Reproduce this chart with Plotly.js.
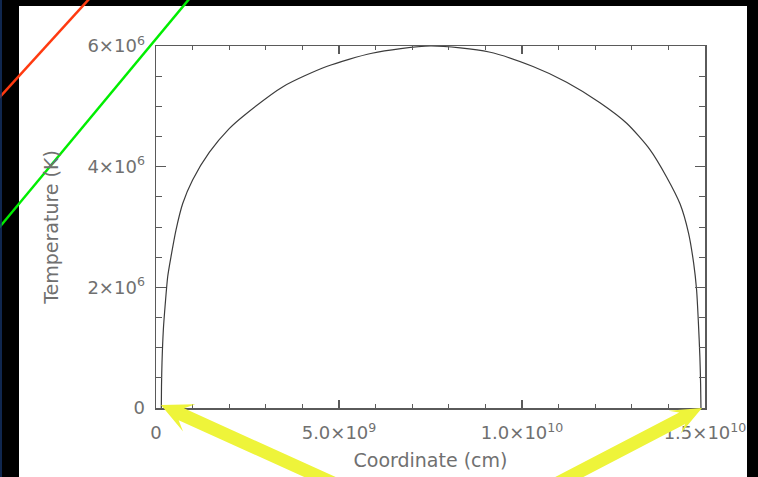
<!DOCTYPE html>
<html>
<head>
<meta charset="utf-8">
<script src="https://cdn.plot.ly/plotly-3.0.1.min.js"></script>
<style>html,body{margin:0;padding:0;background:#000;}#chart{width:758px;height:477px;}</style>
</head>
<body>
<div id="chart"></div>
<script>
// ---- data ----
const coordinate = [1.45e8, 1.50e8, 1.64e8, 2.00e8, 2.55e8, 3.20e8, 4.10e8, 5.46e8, 7.30e8, 1.00e9, 1.46e9, 2.00e9, 2.39e9, 3.48e9, 4.66e9, 5.90e9, 7.50e9, 9.10e9, 1.03e10, 1.122e10, 1.213e10, 1.286e10, 1.350e10, 1.395e10, 1.432e10, 1.455e10, 1.469e10, 1.477e10, 1.482e10, 1.486e10, 1.488e10, 1.489e10];
const temperature = [0, 0.35e6, 0.75e6, 1.29e6, 1.74e6, 2.18e6, 2.51e6, 2.95e6, 3.39e6, 3.78e6, 4.24e6, 4.63e6, 4.84e6, 5.33e6, 5.66e6, 5.88e6, 6.0e6, 5.90e6, 5.66e6, 5.40e6, 5.06e6, 4.72e6, 4.28e6, 3.83e6, 3.38e6, 2.90e6, 2.40e6, 1.96e6, 1.41e6, 0.85e6, 0.40e6, 0];
const xTickVals = [0, 5e9, 1e10, 1.5e10];
const xTickText = ['0', '5.0×10<sup>9</sup>', '1.0×10<sup>10</sup>', '1.5×10<sup>10</sup>'];
const yTickVals = [0, 2e6, 4e6, 6e6];
const yTickText = ['0', '2×10<sup>6</sup>', '4×10<sup>6</sup>', '6×10<sup>6</sup>'];
const xTitle = 'Coordinate (cm)';
const yTitle = 'Temperature (K)';

// ---- layout geometry (pixels) ----
const W = 758, H = 477;
const M = {l: 156, r: 53, t: 46, b: 69};
const pw = W - M.l - M.r, ph = H - M.t - M.b;
function px(x) { return (x - M.l) / pw; }
function py(y) { return (H - M.b - y) / ph; }
function pt(p) { return px(p[0]).toFixed(5) + ',' + py(p[1]).toFixed(5); }

function arrowPath(tip, base, headLen, headHalf, shaftHalf, sweep) {
  const dx = base[0] - tip[0], dy = base[1] - tip[1];
  const L = Math.hypot(dx, dy);
  const ux = dx / L, uy = dy / L;
  const nx = -uy, ny = ux;
  const neck = [tip[0] + ux * headLen * sweep, tip[1] + uy * headLen * sweep];
  const hb = [tip[0] + ux * headLen, tip[1] + uy * headLen];
  const b1 = [hb[0] + nx * headHalf, hb[1] + ny * headHalf];
  const b2 = [hb[0] - nx * headHalf, hb[1] - ny * headHalf];
  const n1 = [neck[0] + nx * shaftHalf, neck[1] + ny * shaftHalf];
  const n2 = [neck[0] - nx * shaftHalf, neck[1] - ny * shaftHalf];
  const e1 = [base[0] + nx * shaftHalf, base[1] + ny * shaftHalf];
  const e2 = [base[0] - nx * shaftHalf, base[1] - ny * shaftHalf];
  return 'M' + pt(tip) + 'L' + pt(b1) + 'L' + pt(n1) + 'L' + pt(e1) + 'L' + pt(e2) + 'L' + pt(n2) + 'L' + pt(b2) + 'Z';
}

const shapes = [
  // white slide panel
  {type: 'rect', xref: 'paper', yref: 'paper', x0: px(19), x1: px(747), y0: py(6), y1: py(490),
   fillcolor: '#ffffff', line: {width: 0}, layer: 'below'},
  // red and green diagonal lines
  {type: 'line', xref: 'paper', yref: 'paper', x0: px(-2), y0: py(99), x1: px(90), y1: py(-2),
   line: {color: '#ff3a10', width: 2.5}},
  {type: 'line', xref: 'paper', yref: 'paper', x0: px(-2), y0: py(229), x1: px(190), y1: py(-2),
   line: {color: '#00ee00', width: 2.5}},
  // right black border (covers overflowing label)
  {type: 'rect', xref: 'paper', yref: 'paper', x0: px(747), x1: px(760), y0: py(-2), y1: py(480),
   fillcolor: '#000000', line: {width: 0}},
  // thin blue edge on the left
  {type: 'line', xref: 'paper', yref: 'paper', x0: px(1), y0: py(0), x1: px(1), y1: py(477),
   line: {color: '#16346a', width: 1.5}},
  // yellow arrows
  {type: 'path', xref: 'paper', yref: 'paper', path: arrowPath([161, 405], [342, 487], 31, 15, 6.5, 0.72),
   fillcolor: '#eef43a', line: {width: 0}},
  {type: 'path', xref: 'paper', yref: 'paper', path: arrowPath([702, 408], [552, 486], 31, 13, 6.5, 0.72),
   fillcolor: '#eef43a', line: {width: 0}}
];

const txtColor = '#707070';
const lineColor = '#5a5a5a';
const fontFam = 'DejaVu Sans, sans-serif';

const trace = {
  x: coordinate, y: temperature, type: 'scatter', mode: 'lines',
  line: {color: '#3c3c3c', width: 1.2, shape: 'spline', smoothing: 0.7},
  hoverinfo: 'skip', showlegend: false
};

const layout = {
  width: W, height: H,
  margin: M,
  paper_bgcolor: '#000000',
  plot_bgcolor: 'rgba(0,0,0,0)',
  showlegend: false,
  xaxis: {
    range: [0, 1.5e10], showgrid: false, zeroline: false,
    showline: true, linecolor: lineColor, linewidth: 1.5, mirror: 'allticks',
    ticks: 'inside', ticklen: 8, tickwidth: 1.2, tickcolor: lineColor,
    tickmode: 'array', tickvals: xTickVals, ticktext: xTickText,
    minor: {dtick: 1e9, ticklen: 4, tickwidth: 1, tickcolor: lineColor, ticks: 'inside', showgrid: false},
    tickfont: {family: fontFam, size: 18, color: txtColor},
    ticklabelstandoff: 8,
    title: {text: xTitle, font: {family: fontFam, size: 19, color: txtColor}, standoff: 11},
    automargin: false, fixedrange: true
  },
  yaxis: {
    range: [0, 6e6], showgrid: false, zeroline: false,
    showline: true, linecolor: lineColor, linewidth: 1.5, mirror: 'allticks',
    ticks: 'inside', ticklen: 10, tickwidth: 1.2, tickcolor: lineColor,
    tickmode: 'array', tickvals: yTickVals, ticktext: yTickText,
    minor: {dtick: 5e5, ticklen: 6, tickwidth: 1, tickcolor: lineColor, ticks: 'inside', showgrid: false},
    tickfont: {family: fontFam, size: 18, color: txtColor},
    ticklabelstandoff: 6,
    title: {text: yTitle, font: {family: fontFam, size: 19, color: txtColor}, standoff: 24},
    automargin: false, fixedrange: true
  },
  shapes: shapes
};

Plotly.newPlot('chart', [trace], layout, {staticPlot: true, displayModeBar: false});
</script>
</body>
</html>
